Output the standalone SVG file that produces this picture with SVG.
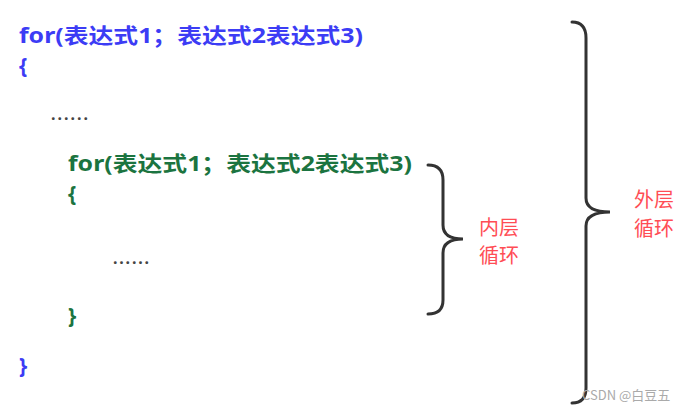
<svg xmlns="http://www.w3.org/2000/svg" width="694" height="408" viewBox="0 0 694 408">
<style>
.code{font-family:"Noto Sans","Noto Sans CJK SC",sans-serif;font-weight:bold;font-size:21px}
.blue{fill:#3c3cf5}
.green{fill:#1b7440}
.dots{font-family:"Noto Sans",sans-serif;font-size:16px;fill:#444;font-weight:bold}
.lbl{font-family:"Noto Sans CJK SC",sans-serif;font-size:20px;fill:#ff4d55}
.brace{fill:none;stroke:#333;stroke-width:3;stroke-linecap:round}
.wm{font-family:"Noto Sans CJK SC",sans-serif;font-size:13px;fill:#aaa}
</style>
<rect width="694" height="408" fill="#fff"/>
<g id="outer-for">
<text class="code blue" x="19" y="43" textLength="344" lengthAdjust="spacingAndGlyphs">for(表达式1；表达式2表达式3)</text>
<text class="code blue" x="19" y="73">{</text>
</g>
<g id="outer-dots"><text class="dots" x="51" y="120" textLength="37">......</text></g>
<g id="inner-for">
<text class="code green" x="68" y="171" textLength="344" lengthAdjust="spacingAndGlyphs">for(表达式1；表达式2表达式3)</text>
<text class="code green" x="68" y="201">{</text>
</g>
<g id="inner-dots"><text class="dots" x="113" y="264" textLength="36">......</text></g>
<g id="inner-close"><text class="code green" x="68" y="323">}</text></g>
<g id="outer-close"><text class="code blue" x="19" y="373">}</text></g>
<g id="connectors">
<path class="brace" d="M428,165 Q443,165 443,180 L443,225 Q443,239 463,239 Q443,239 443,253 L443,300 Q443,314 428,314"/>
<path class="brace" d="M572,22 Q586,22 586,38 L586,198 Q586,212 610,212 Q586,212 586,226 L586,388 Q586,403 572,403"/>
</g>
<g id="inner-label">
<text class="lbl" x="479" y="235">内层</text>
<text class="lbl" x="479" y="263">循环</text>
</g>
<g id="outer-label">
<text class="lbl" x="634" y="207">外层</text>
<text class="lbl" x="634" y="236">循环</text>
</g>
<text class="wm" x="582" y="400">CSDN @白豆五</text>
</svg>
